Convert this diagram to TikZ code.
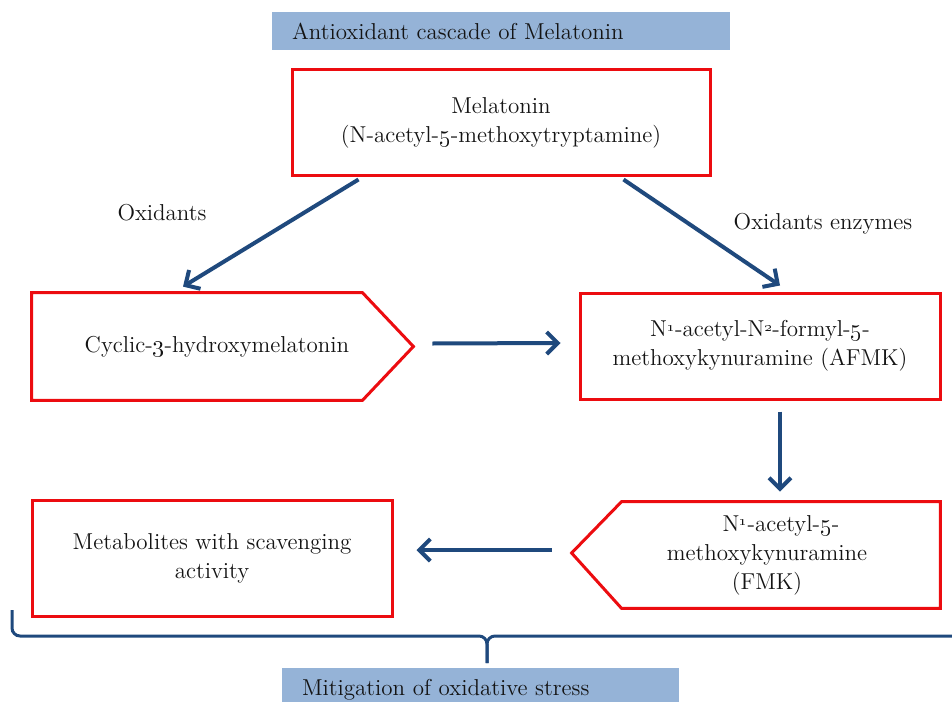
\documentclass[tikz,border=0pt]{standalone}
\usepackage{xcolor}
\usepackage{tikz}
\usetikzlibrary{arrows.meta, positioning, calc}
\definecolor{myred}{RGB}{236,12,16}
\definecolor{myblue}{RGB}{31,73,125}
\definecolor{mytext}{RGB}{20,20,20}
\definecolor{hdrblue}{RGB}{149,179,215}
\newcommand{\supnum}[1]{\raisebox{0.55ex}{\scriptsize\oldstylenums{#1}}}
\tikzset{
  diagfont/.style={font=\fontsize{11.5}{14.5}\selectfont\color{mytext}},
  titlebar/.style={rectangle, fill=hdrblue, diagfont, align=left,
    inner xsep=10pt, inner ysep=0pt, anchor=center},
  redbox/.style={rectangle, draw=myred, line width=1.5pt, diagfont,
    align=center, inner sep=0pt},
  tagbox/.style={rectangle, diagfont, align=center, inner sep=0pt},
  redline/.style={draw=myred, line width=1.5pt, line join=miter},
  arrow/.style={-{Straight Barb[length=5.5pt, width=11pt]}, line width=2pt, color=myblue},
  braceline/.style={line width=1.5pt, color=myblue, rounded corners=4pt},
  label/.style={diagfont}
}

\begin{document}
\begin{tikzpicture}[x=0.5pt, y=-0.5pt]
  \useasboundingbox (0,0) rectangle (952,701);
  \clip (0,0) rectangle (952,701);

  % Title bar
  \node[titlebar, text width=209pt, minimum height=19pt] (title) at (501,31) {Antioxidant cascade of Melatonin};

  % Melatonin
  \node[redbox, minimum width=209pt, minimum height=52.5pt] (mel) at (501,122.5)
    {Melatonin\\(N-acetyl-\oldstylenums{5}-methoxytryptamine)};

  % Oxidation products
  \node[tagbox, minimum width=165pt, minimum height=53.5pt] (cyclic) at (197,346.5)
    {\hspace*{20pt}Cyclic-\oldstylenums{3}-hydroxymelatonin};
  \draw[redline] (cyclic.north west) -- (cyclic.north east) -- ($(cyclic.east)+(51,0)$)
    -- (cyclic.south east) -- (cyclic.south west) -- cycle;

  \node[redbox, minimum width=180pt, minimum height=53pt] (afmk) at (760,346)
    {N\supnum{1}-acetyl-N\supnum{2}-formyl-\oldstylenums{5}-\\methoxykynuramine (AFMK)};

  \node[tagbox, minimum width=159pt, minimum height=53pt] (fmk) at (781,555)
    {N\supnum{1}-acetyl-\oldstylenums{5}-\\\hspace*{-14pt}methoxykynuramine\\\hspace*{-14pt}(FMK)};
  \draw[redline] (fmk.north east) -- (fmk.north west) -- ($(fmk.west)+(-50,-2)$)
    -- (fmk.south west) -- (fmk.south east) -- cycle;

  \node[redbox, minimum width=180pt, minimum height=58pt] (meta) at (212,558)
    {Metabolites with scavenging\\activity};

  % Reaction labels
  \node[label] (ox1) at (162,213) {Oxidants};
  \node[label] (ox2) at (823,224) {Oxidants enzymes};

  % Arrows
  \draw[arrow] ($(mel.south west)+(68,3)$) -- ($(cyclic.north)+(-14,-6)$);
  \draw[arrow] ($(mel.south east)+(-88,3)$) -- ($(afmk.north)+(20,-6)$);
  \draw[arrow] ($(cyclic.east)+(70,-3)$) -- ($(afmk.west)+(-18,-3)$);
  \draw[arrow] ($(afmk.south)+(20,11)$) -- ($(fmk.north)+(-1,-10)$);
  \draw[arrow] ($(fmk.west)+(-70,-5)$) -- ($(meta.east)+(23,-8)$);

  % Bottom bar and brace
  \node[titlebar, text width=178.5pt, minimum height=22pt] (mitig) at (480.5,690) {Mitigation of oxidative stress};
  \coordinate (braceL) at (12,610);
  \coordinate (braceR) at (962,610);
  \coordinate (braceTip) at (487,663);
  \draw[braceline] (braceL) |- ($(braceTip)+(0,-27)$) -- (braceTip);
  \draw[braceline] (braceR) |- ($(braceTip)+(0,-27)$) -- (braceTip);
\end{tikzpicture}
\end{document}
